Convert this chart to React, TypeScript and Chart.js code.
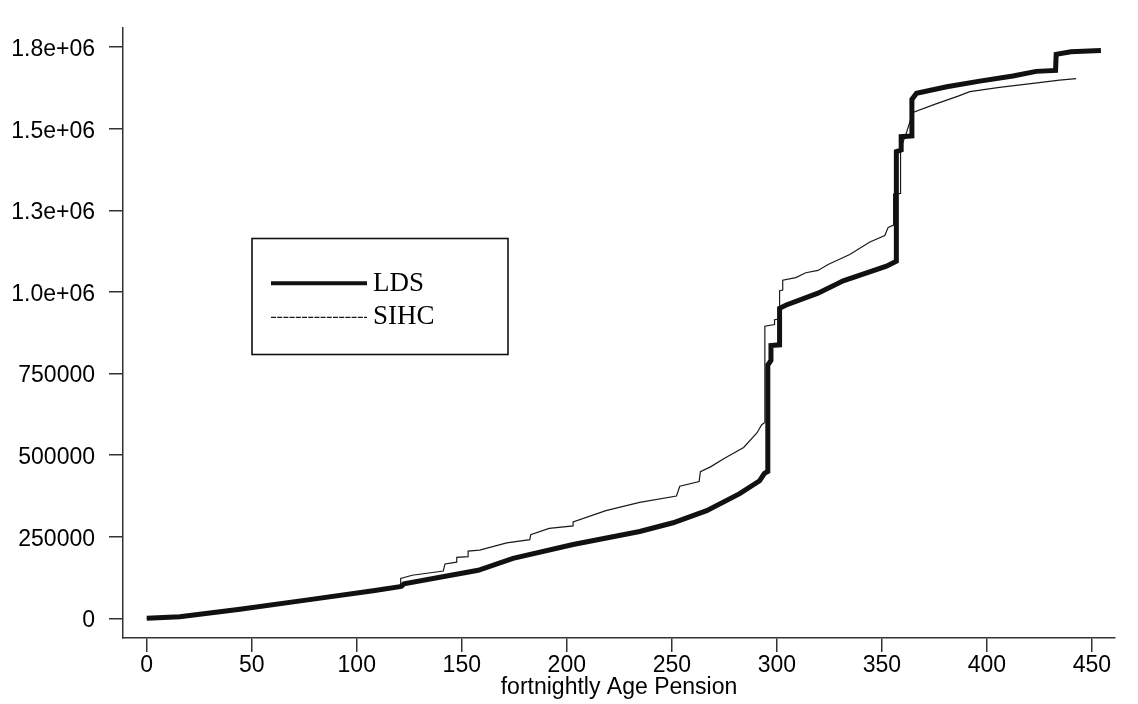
import React, { useEffect, useRef } from "react";
import { Chart, registerables } from "chart.js";

Chart.register(...registerables);

// Cumulative totals by fortnightly Age Pension amount, two data sources
const ldsX = [0, 15.7, 44.4, 75.8, 107.8, 120.6, 121.4, 122.5, 157.8, 174.4, 203, 234.7, 250.6, 266.6, 282.3, 291.8, 294.1, 295.7, 295.7, 297.2, 297.2, 301.3, 301.3, 304.5, 319.6, 331.6, 352.2, 356.9, 356.9, 359.2, 359.2, 364.3, 364.3, 366.5, 380.9, 396.6, 412.4, 423.5, 432.7, 433, 440, 454.3];
const ldsY = [0, 5000, 28000, 55600, 84500, 97000, 99000, 106000, 147000, 183500, 226000, 266000, 292700, 330000, 382000, 421500, 444000, 450000, 776000, 790000, 836000, 838000, 950000, 960000, 996400, 1034000, 1079000, 1094000, 1430000, 1435000, 1476000, 1478000, 1590000, 1609000, 1629000, 1646000, 1662000, 1676000, 1679000, 1728000, 1736000, 1740000];

const sihcX = [0, 15.7, 44.4, 75.8, 107.8, 120.6, 120.9, 126.4, 141.2, 142, 147.6, 147.6, 153, 153, 158.5, 171.4, 182.4, 182.8, 191.6, 203, 203, 218.6, 234.7, 252.2, 253.8, 263, 263.6, 268.4, 274.7, 284.2, 290.5, 292.8, 294.3, 294.3, 298.9, 298.9, 301.3, 301.3, 302.8, 302.8, 309, 313.8, 319.6, 324.4, 334.7, 344.3, 351.4, 353, 355.6, 355.6, 358.9, 358.9, 361.3, 364.8, 375.1, 386.3, 391.9, 406, 421.9, 434.6, 442.5];
const sihcY = [0, 5000, 28000, 55600, 84500, 97000, 122000, 132000, 145000, 166600, 172000, 186500, 189000, 206000, 209000, 231000, 241000, 256000, 275700, 283000, 295600, 330000, 355000, 374800, 404500, 419000, 449000, 464000, 489000, 523500, 568000, 593000, 600000, 895000, 900000, 915000, 917000, 1004000, 1006000, 1036000, 1044000, 1059000, 1066000, 1084000, 1115000, 1153000, 1173000, 1198000, 1205000, 1300000, 1302000, 1440000, 1480000, 1550000, 1575000, 1600000, 1614000, 1627000, 1639000, 1649000, 1654000];

const seriesNames = ["LDS", "SIHC"];
const xTitle = "fortnightly Age Pension";

const xTicks = [0, 50, 100, 150, 200, 250, 300, 350, 400, 450];
const yTicks = [0, 250000, 500000, 750000, 1000000, 1250000, 1500000, 1750000];
const yTickLabels = ["0", "250000", "500000", "750000", "1.0e+06", "1.3e+06", "1.5e+06", "1.8e+06"];

const W = 1138;
const H = 704;
const AXIS = "#333333";
const SANS = "'Liberation Sans', Arial, Helvetica, sans-serif";
const SERIF = "'Liberation Serif', 'Times New Roman', serif";

// Boxed legend drawn inside the plot region
const boxLegend = {
  id: "boxLegend",
  afterDraw(chart: any) {
    const ctx = chart.ctx as CanvasRenderingContext2D;
    const box = { left: 252, top: 238.5, width: 256, height: 116 };
    ctx.save();
    ctx.fillStyle = "#ffffff";
    ctx.fillRect(box.left, box.top, box.width, box.height);
    ctx.strokeStyle = "#111111";
    ctx.lineWidth = 1.6;
    ctx.strokeRect(box.left, box.top, box.width, box.height);

    const rows = [283.3, 317.3];
    const baselines = [291, 324];
    chart.data.datasets.forEach((ds: any, i: number) => {
      const thick = ds.borderWidth >= 3;
      ctx.beginPath();
      ctx.strokeStyle = ds.borderColor;
      ctx.lineWidth = thick ? 4 : 1.2;
      ctx.setLineDash(thick ? [] : [5, 1.2]);
      ctx.moveTo(271, rows[i]);
      ctx.lineTo(367, rows[i]);
      ctx.stroke();
      ctx.setLineDash([]);
      ctx.fillStyle = "#000000";
      ctx.font = `27px ${SERIF}`;
      ctx.textAlign = "left";
      ctx.textBaseline = "alphabetic";
      ctx.fillText(ds.label, 373, baselines[i]);
    });
    ctx.restore();
  },
};

export default function App() {
  const canvasRef = useRef<HTMLCanvasElement | null>(null);

  useEffect(() => {
    document.body.style.margin = "0";
    const canvas = canvasRef.current;
    if (!canvas) return;

    const toPoints = (xs: number[], ys: number[]) => xs.map((x, i) => ({ x, y: ys[i] }));

    const chart = new Chart(canvas, {
      type: "line",
      data: {
        datasets: [
          {
            label: seriesNames[0],
            data: toPoints(ldsX, ldsY),
            borderColor: "#111111",
            borderWidth: 5,
            pointRadius: 0,
            tension: 0,
            fill: false,
            borderJoinStyle: "miter",
          },
          {
            label: seriesNames[1],
            data: toPoints(sihcX, sihcY),
            borderColor: "#1a1a1a",
            borderWidth: 1.2,
            pointRadius: 0,
            tension: 0,
            fill: false,
          },
        ],
      },
      options: {
        animation: false,
        responsive: false,
        parsing: false,
        normalized: true,
        layout: { padding: { left: 0, top: 9, right: 23, bottom: 0 } },
        plugins: {
          legend: { display: false },
          tooltip: { enabled: false },
          title: { display: false },
        },
        scales: {
          x: {
            type: "linear",
            min: -11.3,
            max: 461,
            afterBuildTicks: (scale: any) => {
              scale.ticks = xTicks.map((v) => ({ value: v }));
            },
            afterFit: (scale: any) => {
              scale.height = 66;
            },
            grid: {
              display: true,
              drawOnChartArea: false,
              drawTicks: true,
              tickLength: 14,
              color: AXIS,
              lineWidth: 1.5,
            },
            border: { display: true, color: AXIS, width: 1.5 },
            ticks: {
              color: "#000000",
              font: { family: SANS, size: 23 },
              padding: 0,
              maxRotation: 0,
              autoSkip: false,
              callback: (v: any) => String(v),
            },
            title: {
              display: true,
              text: xTitle,
              color: "#000000",
              font: { family: SANS, size: 23 },
              padding: { top: 0, bottom: 3 },
            },
          },
          y: {
            type: "linear",
            min: -60400,
            max: 1809500,
            afterBuildTicks: (scale: any) => {
              scale.ticks = yTicks.map((v) => ({ value: v }));
            },
            afterFit: (scale: any) => {
              scale.width = 123;
            },
            grid: {
              display: true,
              drawOnChartArea: false,
              drawTicks: true,
              tickLength: 14,
              color: AXIS,
              lineWidth: 1.5,
            },
            border: { display: true, color: AXIS, width: 1.5 },
            ticks: {
              color: "#000000",
              font: { family: SANS, size: 23 },
              padding: 14,
              labelOffset: 2.5,
              autoSkip: false,
              callback: (v: any) => {
                const i = yTicks.indexOf(Number(v));
                return i >= 0 ? yTickLabels[i] : "";
              },
            },
          },
        },
      },
      plugins: [boxLegend],
    });

    return () => chart.destroy();
  }, []);

  return (
    <div style={{ position: "absolute", left: 0, top: 0, width: W, height: H, background: "#ffffff" }}>
      <canvas ref={canvasRef} width={W} height={H} style={{ display: "block", width: W, height: H }} />
    </div>
  );
}
